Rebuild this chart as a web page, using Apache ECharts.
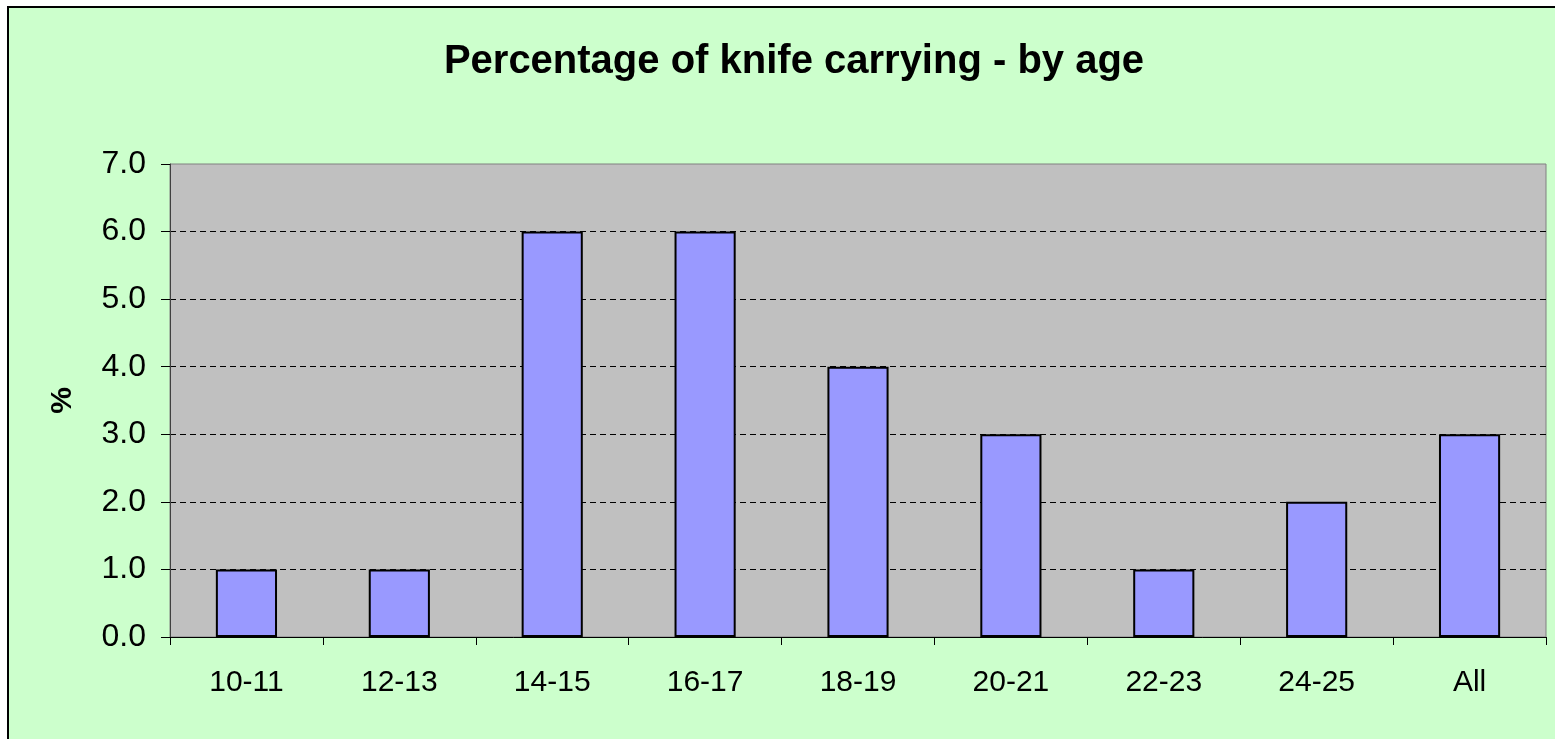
<!DOCTYPE html>
<html lang="en">
<head>
    <meta charset="UTF-8">
    <title>Percentage of knife carrying - by age</title>
    <style>
        html, body { margin: 0; padding: 0; background: #ffffff; }
        #frame { position: absolute; left: 7px; top: 6px; width: 1570px; height: 760px;
                 border: 2px solid #000; background: #CCFFCC; box-sizing: border-box; }
        #main { position: absolute; left: 0; top: 0; width: 1555px; height: 739px; }
    </style>
</head>
<body>
<div id="frame"></div>
<div id="main"></div>
<script src="https://cdn.jsdelivr.net/npm/echarts@6/dist/echarts.min.js"></script>
<script>
    var ageGroups = ['10-11', '12-13', '14-15', '16-17', '18-19', '20-21', '22-23', '24-25', 'All'];
    var percentages = [1, 1, 6, 6, 4, 3, 1, 2, 3];
    var yTicks = { min: 0, max: 7, interval: 1 };

    var myChart = echarts.init(document.getElementById('main'));
    myChart.setOption({
        animation: false,
        textStyle: { fontFamily: 'Liberation Sans, Arial, sans-serif' },
        title: {
            text: 'Percentage of knife carrying - by age',
            left: 789,
            top: 37,
            textAlign: 'center',
            textStyle: { fontSize: 40, fontWeight: 'bold', color: '#000' }
        },
        grid: {
            left: 170, top: 164, right: 9, bottom: 102,
            show: true, backgroundColor: '#C0C0C0', borderColor: '#808080', borderWidth: 1
        },
        xAxis: {
            type: 'category',
            data: ageGroups,
            axisLine: { lineStyle: { color: '#000', width: 1 } },
            axisTick: { show: true, length: 8, lineStyle: { color: '#000' } },
            axisLabel: { fontSize: 30, color: '#000', margin: 31 }
        },
        yAxis: {
            type: 'value',
            name: '%',
            nameLocation: 'middle',
            nameGap: 92,
            nameRotate: 90,
            nameTextStyle: { fontSize: 30, fontWeight: 'bold', color: '#000' },
            min: yTicks.min, max: yTicks.max, interval: yTicks.interval,
            axisLine: { show: true, lineStyle: { color: '#404040', width: 1 } },
            axisTick: { show: true, length: 9, lineStyle: { color: '#000' } },
            axisLabel: { fontSize: 32, color: '#000', margin: 24,
                formatter: function (v) { return v.toFixed(1); } },
            splitLine: { show: true, showMaxLine: false, showMinLine: false,
                lineStyle: { color: '#000', type: [6, 4], width: 1 } }
        },
        series: [{
            type: 'bar',
            data: percentages,
            barWidth: '40%',
            itemStyle: { color: '#9999FF', borderColor: '#000', borderWidth: 2 }
        }]
    });
</script>
</body>
</html>
